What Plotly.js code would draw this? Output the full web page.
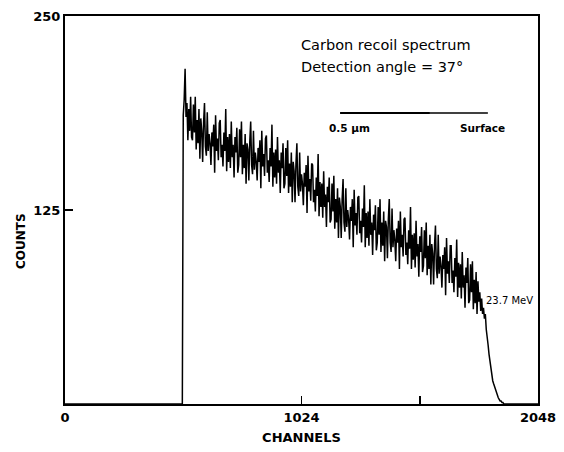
<!DOCTYPE html>
<html>
<head>
<meta charset="utf-8">
<script src="https://cdn.plot.ly/plotly-3.0.1.min.js"></script>
<style>
html, body { margin: 0; padding: 0; background: #fff; }
#chart { width: 564px; height: 452px; }
</style>
</head>
<body>
<div id="chart"></div>
<script>
// ---- Data ----
// Empty region before the recoil edge (channels, counts)
const preChannels = [0, 508];
const preCounts = [0, 0];

// Spectrum bins: first channel and bin width (channels)
const spectrumStart = 512;
const spectrumStep = 4;
const spectrumCounts = [
  186, 196, 216, 185, 194, 170, 190, 176, 198, 172,
  170, 193, 175, 198, 164, 183, 168, 190, 158, 184,
  176, 156, 181, 194, 166, 160, 188, 163, 174, 168,
  154, 175, 166, 180, 149, 186, 163, 171, 157, 181,
  183, 159, 167, 153, 175, 163, 190, 150, 172, 156,
  174, 152, 182, 159, 167, 146, 172, 162, 178, 149,
  154, 177, 159, 182, 148, 167, 152, 174, 142, 168,
  164, 144, 169, 182, 154, 148, 176, 151, 162, 156,
  144, 165, 156, 170, 139, 176, 153, 161, 147, 171,
  173, 149, 157, 143, 165, 153, 180, 140, 162, 146,
  164, 142, 172, 149, 157, 136, 162, 152, 168, 139,
  142, 165, 147, 170, 136, 155, 140, 162, 130, 156,
  150, 130, 155, 168, 140, 134, 162, 137, 148, 142,
  128, 149, 140, 154, 123, 160, 137, 145, 131, 155,
  154, 130, 138, 124, 146, 134, 161, 121, 143, 127,
  142, 120, 150, 127, 135, 114, 140, 130, 146, 117,
  119, 142, 124, 147, 113, 132, 117, 139, 107, 133,
  127, 107, 132, 145, 117, 111, 139, 114, 125, 119,
  106, 127, 118, 132, 101, 138, 115, 123, 109, 133,
  134, 110, 118, 104, 126, 114, 141, 101, 123, 107,
  124, 102, 132, 109, 117, 96, 122, 112, 128, 99,
  104, 127, 109, 132, 98, 117, 102, 124, 92, 118,
  114, 94, 119, 132, 104, 98, 126, 101, 112, 106,
  92, 113, 104, 118, 87, 124, 101, 109, 95, 119,
  120, 96, 104, 90, 112, 100, 127, 87, 109, 93,
  110, 88, 118, 95, 103, 82, 108, 98, 114, 85,
  89, 112, 94, 117, 83, 102, 87, 109, 77, 103,
  97, 77, 102, 115, 87, 81, 109, 84, 95, 89,
  75, 96, 87, 101, 70, 107, 84, 92, 78, 102,
  102, 78, 86, 72, 94, 82, 106, 69, 91, 75,
  90, 68, 98, 75, 83, 62, 88, 78, 94, 65,
  67, 90, 72, 92, 61, 80, 65, 85, 58, 79,
  66, 72, 60, 68, 58, 62, 55, 58, 48, 44,
  38, 32, 27, 22, 18, 15, 13, 11, 9, 7,
  5, 4, 3, 2, 2, 1, 1, 0, 0
];
const postChannels = [1912, 2048];
const postCounts = [0, 0];

const xTickVals = [0, 1024, 1536, 2048];
const xTickText = ['0', '1024', '', '2048'];
const yTickVals = [125, 250];
const yTickText = ['125', '250'];

// ---- Build series ----
const spectrumChannels = spectrumCounts.map((_, i) => spectrumStart + i * spectrumStep);
const xs = preChannels.concat(spectrumChannels, postChannels);
const ys = preCounts.concat(spectrumCounts, postCounts);

const font = 'DejaVu Sans, sans-serif';

const trace = {
  x: xs, y: ys, type: 'scatter', mode: 'lines',
  line: { color: '#000', width: 1.5 },
  hoverinfo: 'skip', showlegend: false
};

const layout = {
  width: 564, height: 452,
  margin: { l: 65, r: 26, t: 16, b: 48 },
  paper_bgcolor: '#fff', plot_bgcolor: '#fff',
  font: { family: font, color: '#000', size: 12 },
  showlegend: false,
  xaxis: {
    range: [0, 2048], showgrid: false, zeroline: false,
    showline: true, linecolor: '#000', linewidth: 2, mirror: true,
    ticks: 'inside', ticklen: 8, tickwidth: 1.5, tickcolor: '#000',
    tickmode: 'array', tickvals: xTickVals, ticktext: xTickText,
    tickfont: { family: font, size: 13, weight: 'bold' },
    title: { text: 'CHANNELS', font: { family: font, size: 13, weight: 'bold' }, standoff: 9 }
  },
  yaxis: {
    range: [0, 250], showgrid: false, zeroline: false,
    showline: true, linecolor: '#000', linewidth: 2, mirror: true,
    ticks: 'inside', ticklen: 8, tickwidth: 1.5, tickcolor: '#000',
    tickmode: 'array', tickvals: yTickVals, ticktext: yTickText,
    tickfont: { family: font, size: 13, weight: 'bold' }
  },
  shapes: [
    { type: 'line', xref: 'x', yref: 'y', x0: 1191, x1: 1580, y0: 187.5, y1: 187.5, line: { color: '#000', width: 2.2 } },
    { type: 'line', xref: 'x', yref: 'y', x0: 1580, x1: 1831, y0: 187.5, y1: 187.5, line: { color: '#000', width: 1.5 } }
  ],
  annotations: [
    { text: 'COUNTS', x: -0.093, y: 0.42, xref: 'paper', yref: 'paper', textangle: -90, xanchor: 'center', yanchor: 'middle', showarrow: false, font: { family: font, size: 12, weight: 'bold' } },
    { text: 'Carbon recoil spectrum', x: 1012, y: 231, xref: 'x', yref: 'y', xanchor: 'left', yanchor: 'middle', showarrow: false, font: { family: font, size: 14.5 } },
    { text: 'Detection angle = 37°', x: 1012, y: 217, xref: 'x', yref: 'y', xanchor: 'left', yanchor: 'middle', showarrow: false, font: { family: font, size: 14.5 } },
    { text: '0.5 μm', x: 1230, y: 178, xref: 'x', yref: 'y', xanchor: 'center', yanchor: 'middle', showarrow: false, font: { family: font, size: 10.5, weight: 'bold' } },
    { text: 'Surface', x: 1806, y: 178, xref: 'x', yref: 'y', xanchor: 'center', yanchor: 'middle', showarrow: false, font: { family: font, size: 10.5, weight: 'bold' } },
    { text: '23.7 MeV', x: 1815, y: 67, xref: 'x', yref: 'y', xanchor: 'left', yanchor: 'middle', showarrow: false, font: { family: font, size: 10 } }
  ]
};

Plotly.newPlot('chart', [trace], layout, { displayModeBar: false, staticPlot: true });
</script>
</body>
</html>
